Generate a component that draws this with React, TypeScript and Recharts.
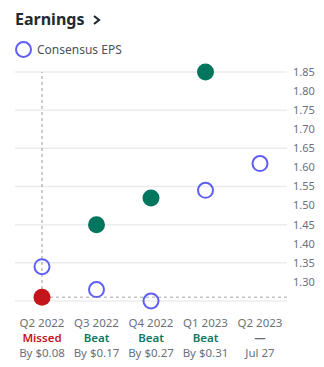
import { ComposedChart, Line, CartesianGrid, XAxis, YAxis, ReferenceLine } from "recharts";

const quarters = ["Q2 2022", "Q3 2022", "Q4 2022", "Q1 2023", "Q2 2023"];
const estimates = [1.34, 1.28, 1.25, 1.54, 1.61];
const actuals: (number | null)[] = [1.26, 1.45, 1.52, 1.85, null];
const results = ["Missed", "Beat", "Beat", "Beat", "—"];
const details = ["By $0.08", "By $0.17", "By $0.27", "By $0.31", "Jul 27"];
const yTicks = [1.3, 1.35, 1.4, 1.45, 1.5, 1.55, 1.6, 1.65, 1.7, 1.75, 1.8, 1.85];

const data = quarters.map((q, i) => ({
  quarter: q,
  estimate: estimates[i],
  actual: actuals[i],
  result: results[i],
  detail: details[i],
}));

const FONT = "'Noto Sans', sans-serif";
const BLUE = "#5f5ff6";
const GREEN = "#00765e";
const RED = "#c4151b";

const resultColor = (r: string) => (r === "Missed" ? RED : r === "Beat" ? "#0b7866" : "#6b6b6b");

const ActualDot = (props: any) => {
  const { cx, cy, payload, index } = props;
  if (cy == null || payload.actual == null) return <g key={"a" + index} />;
  return <circle key={"a" + index} cx={cx} cy={cy} r={8.5} fill={payload.result === "Missed" ? RED : GREEN} />;
};

const EstimateDot = (props: any) => {
  const { cx, cy, index } = props;
  return <circle key={"e" + index} cx={cx} cy={cy} r={7.5} fill="none" stroke={BLUE} strokeWidth={2} />;
};

const QuarterTick = (props: any) => {
  const { x, y, payload, index } = props;
  const row = data[index] || data.find((d) => d.quarter === payload.value);
  return (
    <g>
      <text x={x} y={y + 26} textAnchor="middle" fontSize={11.5} fill="#6b7079" fontFamily={FONT}>
        {payload.value}
      </text>
      <text x={x} y={y + 41} textAnchor="middle" fontSize={11.5} fontWeight={600} fill={resultColor(row.result)} fontFamily={FONT}>
        {row.result}
      </text>
      <text x={x} y={y + 56} textAnchor="middle" fontSize={11.5} fill="#6b7079" fontFamily={FONT}>
        {row.detail}
      </text>
    </g>
  );
};

const App = () => {
  return (
    <div style={{ position: "absolute", left: 0, top: 0, width: 324, height: 367, background: "#fff", fontFamily: FONT }}>
      <div style={{ position: "absolute", left: 15, top: 8, fontSize: 16, fontWeight: 700, color: "#232a31", display: "flex", alignItems: "center" }}>
        Earnings
        <svg width={10} height={12} style={{ marginLeft: 8, marginTop: 2 }}>
          <polyline points="2,2 7,6 2,10" fill="none" stroke="#232a31" strokeWidth={2.2} />
        </svg>
      </div>
      <div style={{ position: "absolute", left: 15, top: 41, display: "flex", alignItems: "center" }}>
        <span style={{ display: "inline-block", width: 13, height: 13, borderRadius: "50%", border: `2px solid ${BLUE}` }} />
        <span style={{ marginLeft: 5, fontSize: 12, color: "#4b525a" }}>Consensus EPS</span>
      </div>
      <ComposedChart width={324} height={367} data={data} margin={{ top: 72, right: 0, bottom: 0, left: 15 }}>
        <CartesianGrid vertical={false} stroke="#ececf0" strokeWidth={1.5} />
        <XAxis
          dataKey="quarter"
          scale="point"
          padding={{ left: 27, right: 27 }}
          axisLine={false}
          tickLine={false}
          tickSize={0}
          tickMargin={0}
          height={66}
          interval={0}
          tick={<QuarterTick />}
        />
        <YAxis
          orientation="right"
          domain={[1.25, 1.85]}
          ticks={yTicks}
          width={37}
          axisLine={false}
          tickLine={false}
          tickMargin={0}
          tickSize={6}
          tickFormatter={(v: number) => v.toFixed(2)}
          tick={{ fontSize: 11, fill: "#6b7079", fontFamily: FONT }}
        />
        <Line dataKey="estimate" stroke="none" dot={<EstimateDot />} activeDot={false} isAnimationActive={false} />
        <Line dataKey="actual" stroke="none" dot={<ActualDot />} activeDot={false} isAnimationActive={false} />
        <ReferenceLine x={quarters[0]} stroke="#9a9a9a" strokeDasharray="3 3" strokeWidth={1} />
        <ReferenceLine
          y={actuals[0] as number}
          shape={(p: any) => (
            <line x1={p.x1} y1={p.y1} x2={p.x2 + 26} y2={p.y2} stroke="#c4c4c4" strokeDasharray="3 3" strokeWidth={1.5} />
          )}
        />
      </ComposedChart>
    </div>
  );
};

export default App;
